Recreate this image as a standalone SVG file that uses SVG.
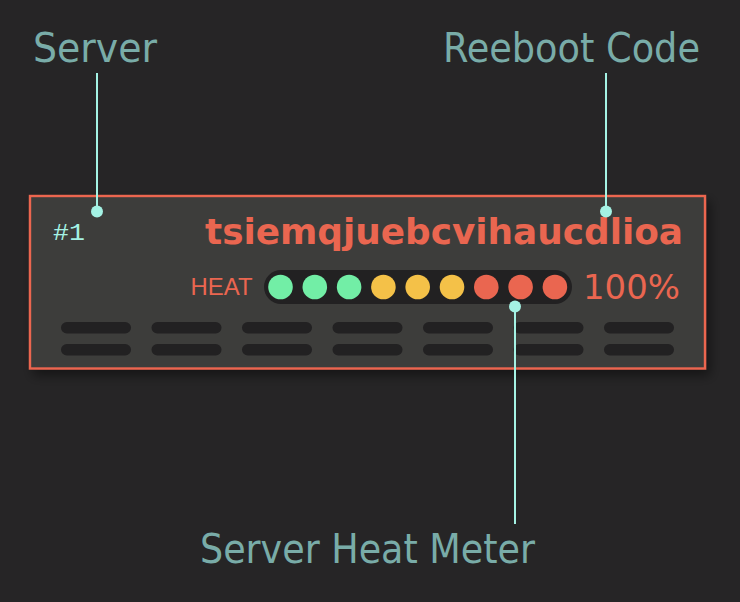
<svg xmlns="http://www.w3.org/2000/svg" width="740" height="602" viewBox="0 0 740 602">
<defs>
<filter id="shadow" x="-10%" y="-20%" width="125%" height="150%">
<feGaussianBlur in="SourceAlpha" stdDeviation="6"/>
<feOffset dx="4" dy="6" result="b"/>
<feComponentTransfer><feFuncA type="linear" slope="0.45"/></feComponentTransfer>
<feMerge><feMergeNode/><feMergeNode in="SourceGraphic"/></feMerge>
</filter>
</defs>
<style>
.lbl{font-family:"DejaVu Sans Condensed","DejaVu Sans",sans-serif;font-size:40px;fill:#79aca8}
.wire{stroke:#a4f2e4;stroke-width:2;fill:none}
.pin{fill:#a4f2e4}
.vent{fill:#222122}
.g{fill:#72eea6}.y{fill:#f4c148}.r{fill:#ea6650}
.red{fill:#ea6650;font-family:"DejaVu Sans",sans-serif}
</style>
<rect width="740" height="602" fill="#262526"/>

<g id="server-box">
<rect x="30" y="196" width="675" height="172.5" fill="#3d3c3b" stroke="#ec6650" stroke-width="2.4" filter="url(#shadow)"/>
<text x="53" y="240" font-family="'Liberation Mono',monospace" font-size="24" fill="#a4f2e4" textLength="32" lengthAdjust="spacingAndGlyphs">#1</text>
<text class="red" x="205" y="244" font-size="36" font-weight="bold" textLength="478" lengthAdjust="spacingAndGlyphs">tsiemqjuebcvihaucdlioa</text>
<g id="vents">
<rect class="vent" x="61" y="322" width="70" height="11.5" rx="5.75"/>
<rect class="vent" x="151.5" y="322" width="70" height="11.5" rx="5.75"/>
<rect class="vent" x="242" y="322" width="70" height="11.5" rx="5.75"/>
<rect class="vent" x="332.5" y="322" width="70" height="11.5" rx="5.75"/>
<rect class="vent" x="423" y="322" width="70" height="11.5" rx="5.75"/>
<rect class="vent" x="513.5" y="322" width="70" height="11.5" rx="5.75"/>
<rect class="vent" x="604" y="322" width="70" height="11.5" rx="5.75"/>
<rect class="vent" x="61" y="344" width="70" height="11.5" rx="5.75"/>
<rect class="vent" x="151.5" y="344" width="70" height="11.5" rx="5.75"/>
<rect class="vent" x="242" y="344" width="70" height="11.5" rx="5.75"/>
<rect class="vent" x="332.5" y="344" width="70" height="11.5" rx="5.75"/>
<rect class="vent" x="423" y="344" width="70" height="11.5" rx="5.75"/>
<rect class="vent" x="513.5" y="344" width="70" height="11.5" rx="5.75"/>
<rect class="vent" x="604" y="344" width="70" height="11.5" rx="5.75"/>
</g>
</g>

<g id="heat-meter">
<text class="red" x="190.5" y="294.5" font-size="24" textLength="62" lengthAdjust="spacingAndGlyphs" style="font-family:'Liberation Sans',sans-serif">HEAT</text>
<rect x="264" y="270" width="308" height="34" rx="17" fill="#222122"/>
<circle class="g" cx="280.5" cy="287" r="12.3"/>
<circle class="g" cx="314.8" cy="287" r="12.3"/>
<circle class="g" cx="349.1" cy="287" r="12.3"/>
<circle class="y" cx="383.4" cy="287" r="12.3"/>
<circle class="y" cx="417.7" cy="287" r="12.3"/>
<circle class="y" cx="452" cy="287" r="12.3"/>
<circle class="r" cx="486.3" cy="287" r="12.3"/>
<circle class="r" cx="520.6" cy="287" r="12.3"/>
<circle class="r" cx="554.9" cy="287" r="12.3"/>
<text class="red" x="583" y="299" font-size="34" textLength="97" lengthAdjust="spacingAndGlyphs">100%</text>
</g>

<g id="connectors">
<line class="wire" x1="97" y1="73" x2="97" y2="211"/>
<circle class="pin" cx="97" cy="211.5" r="6"/>
<line class="wire" x1="606" y1="73" x2="606" y2="211"/>
<circle class="pin" cx="606" cy="211.5" r="6"/>
<line class="wire" x1="515" y1="306" x2="515" y2="524"/>
<circle class="pin" cx="515" cy="306.5" r="6"/>
</g>

<g id="label-server"><text class="lbl" x="33" y="62" textLength="124" lengthAdjust="spacingAndGlyphs">Server</text></g>
<g id="label-reboot"><text class="lbl" x="443" y="62" textLength="257" lengthAdjust="spacingAndGlyphs">Reeboot Code</text></g>
<g id="label-heat"><text class="lbl" x="200" y="563" textLength="335" lengthAdjust="spacingAndGlyphs">Server Heat Meter</text></g>
</svg>
